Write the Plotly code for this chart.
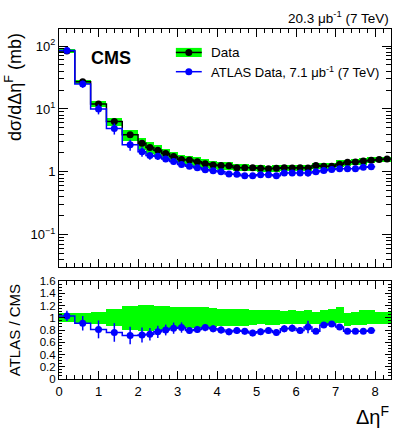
import plotly.graph_objects as go

# bin edges in delta eta^F
edges = [0.0, 0.4, 0.8, 1.2, 1.6, 2.0, 2.2, 2.4, 2.6, 2.8, 3.0, 3.2, 3.4, 3.6, 3.8,
         4.0, 4.2, 4.4, 4.6, 4.8, 5.0, 5.2, 5.4, 5.6, 5.8, 6.0, 6.2, 6.4, 6.6, 6.8,
         7.0, 7.2, 7.4, 7.6, 7.8, 8.0, 8.2, 8.4]

# CMS dsigma/d(delta eta^F) in mb
cms = [83, 27, 12, 6.3, 3.9, 2.85, 2.45, 2.2, 1.97, 1.75, 1.58, 1.55, 1.45, 1.35,
       1.29, 1.26, 1.25, 1.17, 1.17, 1.16, 1.14, 1.12, 1.14, 1.17, 1.15, 1.17,
       1.15, 1.26, 1.23, 1.23, 1.32, 1.42, 1.44, 1.49, 1.53, 1.57, 1.61]
# CMS uncertainty band, relative (upper / lower)
cms_up = [1.07, 1.08, 1.10, 1.14, 1.19, 1.21, 1.21, 1.20, 1.19, 1.18, 1.18, 1.17,
          1.17, 1.17, 1.16, 1.15, 1.15, 1.14, 1.14, 1.13, 1.12, 1.12, 1.12, 1.11,
          1.12, 1.11, 1.12, 1.10, 1.12, 1.14, 1.17, 1.07, 1.10, 1.13, 1.12, 1.10, 1.09]
cms_lo = [0.93, 0.92, 0.90, 0.86, 0.80, 0.79, 0.79, 0.80, 0.81, 0.82, 0.83, 0.84,
          0.84, 0.84, 0.85, 0.86, 0.86, 0.87, 0.87, 0.88, 0.89, 0.88, 0.88, 0.89,
          0.89, 0.89, 0.89, 0.89, 0.90, 0.89, 0.91, 0.87, 0.88, 0.88, 0.89, 0.90, 0.90]

# ATLAS, 7.1 ub^-1 (bins up to 8.0)
atlas = [85, 24.9, 10.0, 4.9, 2.7, 2.1, 1.82, 1.77, 1.61, 1.46, 1.31, 1.23, 1.17,
         1.08, 1.04, 1.01, 0.93, 0.92, 0.87, 0.87, 0.90, 0.90, 0.87, 0.96, 0.96,
         0.96, 0.96, 1.01, 1.05, 1.09, 1.12, 1.12, 1.12, 1.19, 1.21]
ratio = [1.03, 0.91, 0.81, 0.76, 0.71, 0.72, 0.73, 0.77, 0.80, 0.83, 0.84, 0.79,
         0.81, 0.84, 0.82, 0.80, 0.77, 0.79, 0.78, 0.75, 0.77, 0.79, 0.76, 0.82,
         0.83, 0.79, 0.85, 0.78, 0.88, 0.90, 0.85, 0.78, 0.78, 0.78, 0.79]
atlas_rel = [0.08, 0.13, 0.18, 0.20, 0.20, 0.17, 0.14, 0.13, 0.11, 0.11, 0.10, 0.07,
             0.07, 0.07, 0.07, 0.07, 0.07, 0.07, 0.07, 0.07, 0.07, 0.07, 0.07, 0.07,
             0.07, 0.07, 0.12, 0.06, 0.04, 0.04, 0.04, 0.04, 0.04, 0.04, 0.04]

centers = [(a + b) / 2 for a, b in zip(edges[:-1], edges[1:])]
widths = [b - a for a, b in zip(edges[:-1], edges[1:])]
na = len(atlas)

GREEN = "#00ff00"
BLUE = "#0000ff"
FONT = "Liberation Sans"

fig = go.Figure()

# --- top panel ---
fig.add_trace(go.Bar(x=centers, width=widths,
                     base=[c * l for c, l in zip(cms, cms_lo)],
                     y=[c * (u - l) for c, u, l in zip(cms, cms_up, cms_lo)],
                     marker=dict(color=GREEN, line_width=0),
                     xaxis="x", yaxis="y", showlegend=False))
fig.add_trace(go.Scatter(x=edges, y=cms + [cms[-1]], mode="lines", line_shape="hv",
                         line=dict(color="black", width=1.5),
                         xaxis="x", yaxis="y", showlegend=False))
fig.add_trace(go.Scatter(x=edges[:na + 1], y=atlas + [atlas[-1]], mode="lines",
                         line_shape="hv", line=dict(color=BLUE, width=1.5),
                         xaxis="x", yaxis="y", showlegend=False))
fig.add_trace(go.Scatter(x=centers, y=cms, mode="markers",
                         marker=dict(color="black", size=7),
                         xaxis="x", yaxis="y", showlegend=False))
fig.add_trace(go.Scatter(x=centers[:na], y=atlas, mode="markers",
                         marker=dict(color=BLUE, size=7),
                         error_y=dict(type="data", array=[a * r for a, r in zip(atlas, atlas_rel)],
                                      color=BLUE, thickness=1.5, width=0),
                         xaxis="x", yaxis="y", showlegend=False))

# --- ratio panel ---
fig.add_trace(go.Bar(x=centers, width=widths, base=cms_lo,
                     y=[u - l for u, l in zip(cms_up, cms_lo)],
                     marker=dict(color=GREEN, line_width=0),
                     xaxis="x2", yaxis="y2", showlegend=False))
fig.add_trace(go.Scatter(x=edges[:na + 1], y=ratio + [ratio[-1]], mode="lines",
                         line_shape="hv", line=dict(color=BLUE, width=1.5),
                         xaxis="x2", yaxis="y2", showlegend=False))
fig.add_trace(go.Scatter(x=centers[:na], y=ratio, mode="markers",
                         marker=dict(color=BLUE, size=7),
                         error_y=dict(type="data", array=[a * r for a, r in zip(ratio, atlas_rel)],
                                      color=BLUE, thickness=1.5, width=0),
                         xaxis="x2", yaxis="y2", showlegend=False))

axis_common = dict(showline=True, linecolor="black", linewidth=1, mirror="ticks",
                   ticks="inside", tickcolor="black", showgrid=False, zeroline=False,
                   tickfont=dict(family=FONT, size=13, color="black"))

log_minor = [m * 10 ** e for e in range(-2, 3) for m in range(2, 10)]

fig.update_layout(
    width=407, height=429,
    margin=dict(l=59, r=16, t=29, b=50),
    paper_bgcolor="white", plot_bgcolor="white",
    barmode="overlay", bargap=0,
    font=dict(family=FONT, color="black"),
    xaxis=dict(axis_common, domain=[0, 1], range=[0, 8.4], anchor="y",
               showticklabels=False, dtick=1, ticklen=8,
               minor=dict(dtick=0.2, ticks="inside", ticklen=4, tickcolor="black")),
    yaxis=dict(axis_common, domain=[0.32, 1], type="log", range=[-1.51, 2.27], anchor="x",
               tickvals=[0.1, 1, 10, 100],
               ticktext=["10<sup>\u22121</sup>", "1", "10<sup>1</sup>", "10<sup>2</sup>"],
               ticklen=9,
               minor=dict(tickvals=log_minor, ticks="inside", ticklen=5, tickcolor="black")),
    xaxis2=dict(axis_common, domain=[0, 1], range=[0, 8.4], anchor="y2",
                dtick=1, ticklen=8,
                minor=dict(dtick=0.2, ticks="inside", ticklen=4, tickcolor="black")),
    yaxis2=dict(axis_common, domain=[0, 0.28], range=[0, 1.6], anchor="x2",
                tickvals=[0, 0.2, 0.4, 0.6, 0.8, 1, 1.2, 1.4, 1.6],
                ticktext=["0", "0.2", "0.4", "0.6", "0.8", "1", "1.2", "1.4", "1.6"],
                ticklen=6, tickfont=dict(family=FONT, size=11.5, color="black"),
                minor=dict(dtick=0.05, ticks="inside", ticklen=3, tickcolor="black")),
)

# legend drawn by hand (ROOT style)
lx0, lx1, lxm = 0.352, 0.43, 0.391
ly_data, ly_atlas = 0.933, 0.878
shapes = [
    dict(type="rect", xref="paper", yref="paper", x0=lx0, x1=lx1, y0=ly_data - 0.013,
         y1=ly_data + 0.013, fillcolor=GREEN, line_width=0),
    dict(type="line", xref="paper", yref="paper", x0=lx0, x1=lx1, y0=ly_data, y1=ly_data,
         line=dict(color="black", width=1.5)),
    dict(type="line", xref="paper", yref="paper", x0=lx0, x1=lx1, y0=ly_atlas, y1=ly_atlas,
         line=dict(color=BLUE, width=1.5)),
    dict(type="circle", xref="paper", yref="paper", xsizemode="pixel", ysizemode="pixel",
         xanchor=lxm, yanchor=ly_data, x0=-3.5, x1=3.5, y0=-3.5, y1=3.5,
         fillcolor="black", line_width=0),
    dict(type="circle", xref="paper", yref="paper", xsizemode="pixel", ysizemode="pixel",
         xanchor=lxm, yanchor=ly_atlas, x0=-3.5, x1=3.5, y0=-3.5, y1=3.5,
         fillcolor=BLUE, line_width=0),
]
fig.update_layout(shapes=shapes)

ann = [
    dict(text="<b>CMS</b>", x=0.09, y=0.918, xref="paper", yref="paper", xanchor="left",
         yanchor="middle", showarrow=False, font=dict(size=18, family=FONT)),
    dict(text="Data", x=0.452, y=ly_data, xref="paper", yref="paper", xanchor="left",
         yanchor="middle", showarrow=False, font=dict(size=13.5, family=FONT)),
    dict(text="ATLAS Data, 7.1 \u03bcb<sup>-1</sup> (7 TeV)", x=0.452, y=ly_atlas,
         xref="paper", yref="paper", xanchor="left", yanchor="middle", showarrow=False,
         font=dict(size=13, family=FONT)),
    dict(text="20.3 \u03bcb<sup>-1</sup> (7 TeV)", x=1.0, y=1.0, yshift=1, xref="paper",
         yref="paper", xanchor="right", yanchor="bottom", showarrow=False,
         font=dict(size=13.5, family=FONT)),
    dict(text="d\u03c3/d\u0394\u03b7<sup>F</sup> (mb)", x=-0.135, y=0.835, xref="paper",
         yref="paper", xanchor="center", yanchor="middle", textangle=-90, showarrow=False,
         font=dict(size=18, family=FONT)),
    dict(text="ATLAS / CMS", x=-0.135, y=0.14, xref="paper", yref="paper",
         xanchor="center", yanchor="middle", textangle=-90, showarrow=False,
         font=dict(size=15, family=FONT)),
    dict(text="\u0394\u03b7<sup>F</sup>", x=1.0, y=-0.062, xref="paper", yref="paper",
         xanchor="right", yanchor="top", showarrow=False, font=dict(size=20, family=FONT)),
]
fig.update_layout(annotations=ann)

fig.write_html("out.html", config={"displayModeBar": False},
               post_script="document.body.style.margin='0';")
